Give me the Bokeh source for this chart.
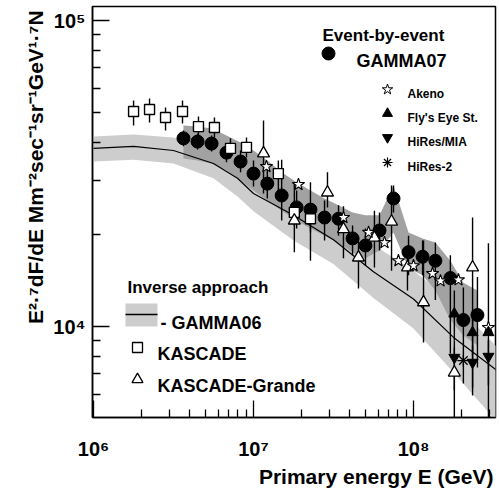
import numpy as np
from bokeh.plotting import figure
from bokeh.models import FixedTicker, Title
from bokeh.core.properties import value
from bokeh.embed import file_html
from bokeh.resources import INLINE

# ---------------- data (E in GeV, flux E^2.7 dF/dE) ----------------
kascade_E = [1.78e6, 2.24e6, 2.82e6, 3.60e6, 4.53e6, 5.70e6, 7.18e6, 9.04e6, 1.43e7, 1.80e7, 2.27e7]
kascade_F = [5.04e4, 5.12e4, 4.82e4, 5.04e4, 4.50e4, 4.47e4, 3.82e4, 3.85e4, 3.16e4, 2.36e4, 2.25e4]
kascade_lo = [4.54e4, 4.64e4, 4.37e4, 4.61e4, 4.18e4, 4.15e4, 3.54e4, 3.57e4, 2.78e4, 2.14e4, 2.03e4]
kascade_hi = [5.48e4, 5.56e4, 5.20e4, 5.48e4, 4.86e4, 4.82e4, 4.12e4, 4.15e4, 3.49e4, 2.58e4, 2.49e4]

gamma07_E = [3.65e6, 4.47e6, 5.47e6, 6.78e6, 8.30e6, 1.00e7, 1.22e7, 1.50e7, 1.86e7, 2.27e7, 2.78e7,
             3.40e7, 4.16e7, 5.01e7, 6.13e7, 7.50e7, 9.31e7, 1.14e8, 1.37e8, 1.70e8, 2.05e8, 2.51e8]
gamma07_F = [4.12e4, 4.02e4, 3.96e4, 3.70e4, 3.46e4, 3.16e4, 2.93e4, 2.68e4, 2.45e4, 2.41e4, 2.27e4,
             2.25e4, 1.94e4, 1.84e4, 2.06e4, 2.62e4, 1.75e4, 1.69e4, 1.64e4, 1.44e4, 1.05e4, 1.09e4]
gamma07_lo = [3.88e4, 3.79e4, 3.73e4, 3.44e4, 3.19e4, 2.87e4, 2.62e4, 2.22e4, 2.09e4, 1.64e4, 1.91e4,
              1.98e4, 1.71e4, 1.58e4, 1.77e4, 2.36e4, 1.47e4, 1.47e4, 1.22e4, 8.16e3, 6.51e3, 7.35e3]
gamma07_hi = [4.37e4, 4.27e4, 4.21e4, 3.96e4, 3.76e4, 3.49e4, 3.28e4, 3.51e4, 2.78e4, 2.96e4, 2.58e4,
              2.49e4, 2.14e4, 2.09e4, 2.36e4, 2.89e4, 1.98e4, 1.91e4, 1.88e4, 1.71e4, 1.34e4, 1.45e4]
gamma07_band_lo = [3.54e4, 3.49e4, 3.41e4, 3.24e4, 3.00e4, 2.78e4, 2.58e4, 2.39e4, 2.22e4, 2.09e4, 1.98e4,
                   1.87e4, 1.75e4, 1.67e4, 1.77e4, 2.03e4, 1.55e4, 1.47e4, 1.31e4, 1.05e4, 9.35e3, 8.67e3]
gamma07_band_hi = [4.54e4, 4.50e4, 4.44e4, 4.21e4, 3.99e4, 3.76e4, 3.49e4, 3.19e4, 2.96e4, 2.78e4, 2.62e4,
                   2.49e4, 2.36e4, 2.31e4, 2.31e4, 2.89e4, 2.03e4, 1.94e4, 1.88e4, 1.64e4, 1.39e4, 1.31e4]

kg_E = [1.155e7, 1.80e7, 2.90e7, 3.65e7, 4.53e7, 5.70e7, 7.29e7, 9.17e7, 1.155e8, 1.80e8, 2.34e8]
kg_F = [3.68e4, 2.22e4, 2.74e4, 2.08e4, 1.68e4, 1.95e4, 2.20e4, 1.56e4, 1.20e4, 7.07e3, 1.56e4]
kg_lo = [2.72e4, 1.75e4, 2.45e4, 1.67e4, 1.33e4, 1.56e4, 1.52e4, 1.31e4, 8.87e3, 4.57e3, 6.32e3]
kg_hi = [4.71e4, 2.96e4, 3.19e4, 2.47e4, 1.95e4, 2.39e4, 2.89e4, 1.84e4, 1.91e4, 8.54e3, 2.27e4]

akeno_E = [1.205e7, 1.91e7, 3.65e7, 5.24e7, 6.59e7, 8.05e7, 1.0e8, 1.315e8, 1.475e8, 1.91e8, 2.94e8]
akeno_F = [3.33e4, 2.91e4, 2.27e4, 2.03e4, 1.88e4, 1.64e4, 1.58e4, 1.49e4, 1.41e4, 1.42e4, 9.92e3]

fly_E = [1.80e8, 2.34e8, 2.94e8]
fly_F = [1.10e4, 9.56e3, 9.56e3]
fly_lo = [9.00e3, 8.04e3, 5.04e3]
fly_hi = [1.31e4, 1.13e4, 1.87e4]

mia_E = [1.80e8, 2.34e8, 2.94e8]
mia_F = [7.92e3, 7.63e3, 7.98e3]
mia_lo = [6.18e3, 5.95e3, 6.42e3]
mia_hi = [9.00e3, 8.67e3, 9.00e3]

hires2_E = [2.05e8]
hires2_F = [7.74e3]

gamma06_E = [1.0e6, 1.78e6, 3.16e6, 5.62e6, 7.94e6, 1.0e7, 1.78e7, 3.16e7, 5.62e7, 1.0e8, 1.78e8, 3.3e8]
gamma06_F = [3.82e4, 3.88e4, 3.76e4, 3.41e4, 3.05e4, 2.72e4, 2.31e4, 1.92e4, 1.51e4, 1.23e4, 9.21e3, 7.2e3]
gamma06_lo = [3.46e4, 3.51e4, 3.41e4, 3.05e4, 2.66e4, 2.38e4, 1.91e4, 1.60e4, 1.24e4, 9.85e3, 7.07e3, 4.9e3]
gamma06_hi = [4.18e4, 4.24e4, 4.15e4, 3.79e4, 3.41e4, 3.09e4, 2.72e4, 2.32e4, 1.85e4, 1.52e4, 1.20e4, 8.6e3]

x_major = [1e6, 1e7, 1e8]
x_major_labels = ["10⁶", "10⁷", "10⁸"]
y_major = [1e4, 1e5]
y_major_labels = ["10⁴", "10⁵"]

# ---------------- layout helpers (page pixel -> data) ----------------
PX_DEC_X = 160.0   # pixels per decade in x
PX_DEC_Y = 306.0   # pixels per decade in y
def fx(px):
    return 10 ** (6 + (px - 93) / PX_DEC_X)
def fy(py):
    return 10 ** (5 - (py - 20) / PX_DEC_Y)

FONT = "Liberation Sans"
LIGHT = "#cdcdcd"
DARK = "#a2a2a2"

p = figure(width=499, height=493, x_axis_type="log", y_axis_type="log",
           x_range=(fx(92), fx(495)), y_range=(fy(417), fy(6)),
           output_backend="svg", toolbar_location=None,
           min_border_left=92, min_border_right=4, min_border_top=6, min_border_bottom=76)
p.grid.visible = False
p.outline_line_color = "black"
p.outline_line_width = 1.5
p.background_fill_color = "white"

x_minor = [m * d for d in (1e6, 1e7, 1e8) for m in range(2, 10)]
y_minor = [m * d for d in (1e3, 1e4) for m in range(2, 10)]
p.xaxis.ticker = FixedTicker(ticks=x_major, minor_ticks=x_minor)
p.yaxis.ticker = FixedTicker(ticks=y_major, minor_ticks=y_minor)
p.xaxis.major_label_overrides = dict(zip(x_major, x_major_labels))
p.yaxis.major_label_overrides = dict(zip(y_major, y_major_labels))
for ax in (p.xaxis, p.yaxis):
    ax.major_tick_in = 17
    ax.major_tick_out = 0
    ax.minor_tick_in = 8
    ax.minor_tick_out = 0
    ax.major_tick_line_width = 1.3
    ax.minor_tick_line_width = 1.3
    ax.axis_line_width = 1.5
    ax.major_label_text_font = FONT
    ax.major_label_text_font_style = "bold"
    ax.major_label_text_font_size = "20px"
    ax.major_label_text_color = "black"
p.xaxis.major_label_standoff = 20
p.yaxis.major_label_standoff = 7

# axis titles as side titles (outside the frame)
p.add_layout(Title(text="Primary energy E (GeV)", align="right", text_font=FONT, text_color="black",
                   text_font_style="bold", text_font_size="21px", standoff=0, offset=2), "below")
p.add_layout(Title(text="E²·⁷dF/dE  Mm⁻²sec⁻¹sr⁻¹GeV¹·⁷N", align="right", text_font=FONT,
                   text_color="black", text_font_style="bold", text_font_size="21px",
                   standoff=8, offset=-2), "left")

# bands
p.varea(x=gamma06_E, y1=gamma06_lo, y2=gamma06_hi, fill_color=LIGHT)
p.varea(x=gamma07_E, y1=gamma07_band_lo, y2=gamma07_band_hi, fill_color=DARK)
p.line(gamma06_E, gamma06_F, line_color="black", line_width=1.2)

# error bars
EB = dict(line_color="black", line_width=1.4)
p.segment(x0=kascade_E, y0=kascade_lo, x1=kascade_E, y1=kascade_hi, **EB)
p.segment(x0=gamma07_E, y0=gamma07_lo, x1=gamma07_E, y1=gamma07_hi, **EB)
p.segment(x0=kg_E, y0=kg_lo, x1=kg_E, y1=kg_hi, **EB)
p.segment(x0=fly_E, y0=fly_lo, x1=fly_E, y1=fly_hi, **EB)
p.segment(x0=mia_E, y0=mia_lo, x1=mia_E, y1=mia_hi, **EB)

# markers
p.scatter(gamma07_E, gamma07_F, marker="circle", size=13, fill_color="black", line_color="black")
p.scatter(kascade_E, kascade_F, marker="square", size=10, fill_color="white", line_color="black", line_width=1.4)
p.scatter(kg_E, kg_F, marker="triangle", size=12, fill_color="white", line_color="black", line_width=1.3)
p.scatter(akeno_E, akeno_F, marker="star", size=13, fill_color="white", line_color="black", line_width=1.1)
p.scatter(fly_E, fly_F, marker="triangle", size=11, fill_color="black", line_color="black")
p.scatter(mia_E, mia_F, marker="inverted_triangle", size=11, fill_color="black", line_color="black")
p.scatter(hires2_E, hires2_F, marker="asterisk", size=12, line_color="black", line_width=1.3)

# ---------------- legends (inside the frame) ----------------
def txt(px, py, s, size, align="left"):
    p.text(x=[fx(px)], y=[fy(py)], text=[s], text_font=value(FONT), text_font_style="bold",
           text_font_size=size, text_align=align, text_baseline="alphabetic", text_color="black")

txt(322, 35, "Event-by-event", "17px")
p.scatter([fx(328)], [fy(53)], marker="circle", size=13, color="black")
txt(356, 60, "GAMMA07", "18px")
p.scatter([fx(387)], [fy(89)], marker="star", size=11, fill_color="white", line_color="black")
txt(407, 93.5, "Akeno", "12px")
p.scatter([fx(387)], [fy(113)], marker="triangle", size=10, color="black")
txt(407, 117.5, "Fly's Eye St.", "12px")
p.scatter([fx(387)], [fy(137)], marker="inverted_triangle", size=10, color="black")
txt(407, 141.5, "HiRes/MIA", "12px")
p.scatter([fx(387)], [fy(162)], marker="asterisk", size=10, line_color="black", line_width=1.2)
txt(407, 166.5, "HiRes-2", "12px")

txt(127, 287, "Inverse approach", "17px")
p.quad(left=[fx(125)], right=[fx(157)], top=[fy(303)], bottom=[fy(326)], fill_color=LIGHT, line_color=None)
p.segment(x0=[fx(125)], y0=[fy(314)], x1=[fx(157)], y1=[fy(314)], line_color="black", line_width=1.3)
txt(160, 322, "- GAMMA06", "18px")
p.scatter([fx(137)], [fy(347)], marker="square", size=10, fill_color="white", line_color="black", line_width=1.3)
txt(157, 353, "KASCADE", "18px")
p.scatter([fx(137)], [fy(379)], marker="triangle", size=11, fill_color="white", line_color="black", line_width=1.3)
txt(157, 385, "KASCADE-Grande", "18px")

open("out.html", "w").write(file_html(p, INLINE))
